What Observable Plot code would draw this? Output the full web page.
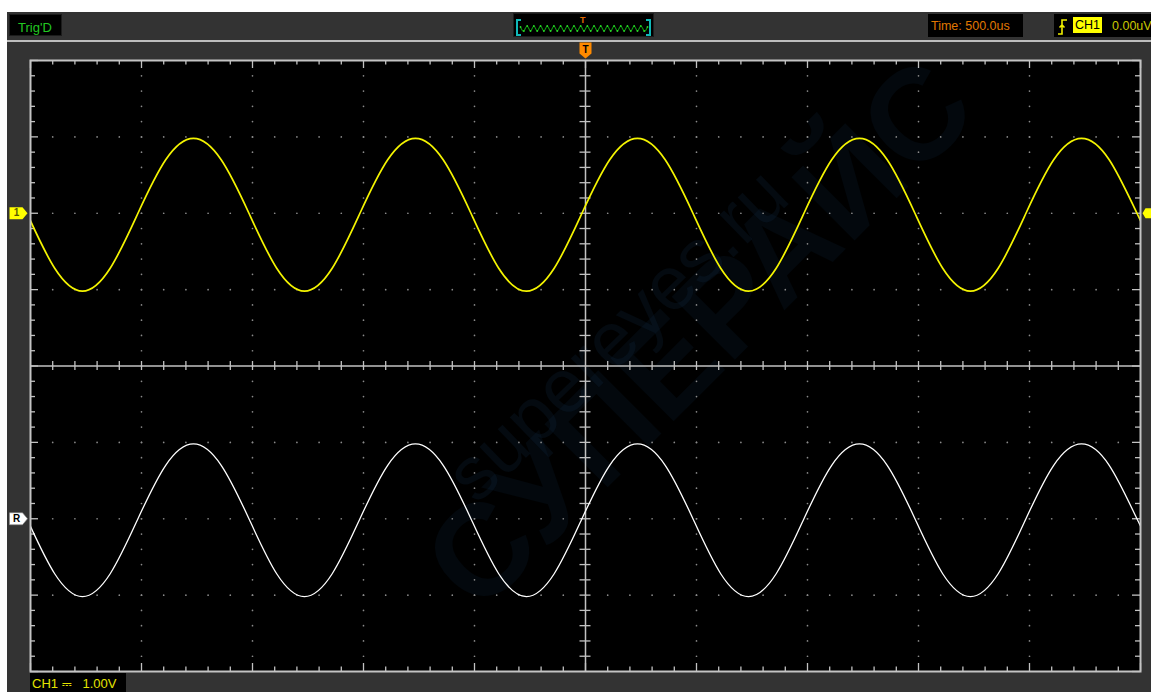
<!DOCTYPE html>
<html><head><meta charset="utf-8">
<script src="https://cdn.jsdelivr.net/npm/d3@7"></script>
<script src="https://cdn.jsdelivr.net/npm/@observablehq/plot@0.6"></script>
<style>
body{margin:0;background:#fff;width:1151px;height:692px;overflow:hidden;position:relative;font-family:"Liberation Sans",Arial,sans-serif;}
#panel{position:absolute;left:7px;top:12px;width:1144px;height:680px;background:#333;}
#sep{position:absolute;left:7px;top:40px;width:1144px;height:2px;background:#bdbdbd;}
.box{position:absolute;background:#000;box-sizing:border-box;line-height:1;white-space:nowrap;overflow:hidden;}
#main{position:absolute;left:0;top:0;}
</style></head>
<body>
<div id="panel"></div>
<div id="sep"></div>
<div class="box" id="trig" style="left:9px;top:14px;width:53px;height:22px;border:1px solid #1c1c1c;color:#22c822;font-size:13px;padding:6px 0 0 8px;">Trig'D</div>
<div class="box" id="mini" style="left:513px;top:13px;width:141px;height:24px;border:1px solid #1c1c1c;">
  <div style="position:absolute;left:2px;top:5px;width:3px;height:13px;border:2px solid #10b8b8;border-right:none;"></div>
  <div style="position:absolute;right:2px;top:5px;width:3px;height:13px;border:2px solid #10b8b8;border-left:none;"></div>
  <div style="position:absolute;left:66px;top:2px;color:#e06a00;font-size:9px;font-weight:bold;">T</div>
  <div id="miniplot" style="position:absolute;left:6px;top:10px;"></div>
</div>
<div class="box" id="time" style="left:928px;top:14px;width:95px;height:23px;color:#e07800;font-size:12.5px;padding:6px 0 0 3px;">Time: 500.0us</div>
<div class="box" id="trg" style="left:1054px;top:14px;width:97px;height:23px;">
  <svg style="position:absolute;left:3px;top:5px" width="12" height="16"><path d="M1,15 H5 V1 H10 M2.5,8.5 L5,6 L7.5,8.5" fill="none" stroke="#f0f000" stroke-width="1.6"/></svg>
  <div style="position:absolute;left:19px;top:3px;width:29px;height:16px;background:#ffff00;color:#000;font-size:12.5px;padding:2px 0 0 2px;box-sizing:border-box;">CH1</div>
  <div style="position:absolute;left:58px;top:6px;color:#c8c800;font-size:12.5px;">0.00uV</div>
</div>
<div class="box" id="chan" style="left:30px;top:673px;width:96px;height:19px;color:#e4e400;font-size:13px;padding:4px 0 0 2px;">CH1 <span style="font-family:'DejaVu Sans';font-size:12px;">⎓</span>&nbsp;&nbsp;&nbsp;1.00V</div>
<div id="main"></div>
<script>
// ---- data read from the screen ----
// sample times (µs), every 1/8 of the 1 ms period
const timeUs = [-2516,-2391,-2266,-2141,-2016,-1891,-1766,-1641,-1516,-1391,-1266,-1141,-1016,-891,-766,-641,-516,-391,-266,-141,-16,109,234,359,484,609,734,859,984,1109,1234,1359,1484,1609,1734,1859,1984,2109,2234,2359,2484,2609];
// CH1 (yellow) volts
const ch1Volts = [0,-0.72,-1.02,-0.72,0,0.7,0.98,0.7, 0,-0.72,-1.02,-0.72,0,0.7,0.98,0.7, 0,-0.72,-1.02,-0.72,0,0.7,0.98,0.7, 0,-0.72,-1.02,-0.72,0,0.7,0.98,0.7, 0,-0.72,-1.02,-0.72,0,0.7,0.98,0.7, 0,-0.72];
// Reference R (white) volts
const refVolts = [0,-0.72,-1.02,-0.72,0,0.7,0.98,0.7, 0,-0.72,-1.02,-0.72,0,0.7,0.98,0.7, 0,-0.72,-1.02,-0.72,0,0.7,0.98,0.7, 0,-0.72,-1.02,-0.72,0,0.7,0.98,0.7, 0,-0.72,-1.02,-0.72,0,0.7,0.98,0.7, 0,-0.72];
const voltsPerDiv = 1.0;
const ch1OffsetDiv = 2;
const refOffsetDiv = -2;
const triggerTime = 0;
const triggerLevel = 0;
// memory overview waveform (mini window)
const miniValues = [0.6,-1,1,-1,1,-1,1,-1,1,-1,1,-1,1,-1,1,-1,1,-1,1,-1,1,-1,1,-1,1,-1,1,-1,1,-1,1,-1,1,-1,1,-1,1,-1,0.6];

// ---- layout ----
const W = 1151, H = 692, mL = 30, mR = 11, mT = 60, mB = 21;
const PXX = 5000 / (W - mL - mR);   // µs per px
const PXY = 8 / (H - mT - mB);       // div per px
const r1 = v => Math.round(v * 10) / 10;
const xMajor = d3.range(-2500, 2501, 500);
const xMinor = d3.range(-2500, 2501, 100);
const yMajor = d3.range(-4, 4.001, 1).map(r1);
const yMinor = d3.range(-4, 4.001, 0.2).map(r1);
const isMajX = x => x % 500 === 0;
const isMajY = y => Math.abs(y - Math.round(y)) < 1e-6;

const dotsV = xMajor.filter(x => x !== 0 && Math.abs(x) !== 2500)
  .flatMap(x => yMinor.filter(y => Math.abs(y) < 4).map(y => ({x, y})));
const dotsH = yMajor.filter(y => y !== 0 && Math.abs(y) !== 4)
  .flatMap(y => xMinor.filter(x => Math.abs(x) < 2500).map(x => ({x, y})));

const idx = d3.range(timeUs.length);
const sym = pts => ({draw(ctx) { ctx.moveTo(pts[0][0], pts[0][1]); for (const p of pts.slice(1)) ctx.lineTo(p[0], p[1]); ctx.closePath(); }});
const ptrDown = sym([[-6,-8],[6,-8],[6,3],[0,8],[-6,3]]);
const ptrRight = sym([[-9,-6],[4,-6],[9,0],[4,6],[-9,6]]);
const ptrLeft = sym([[-7,0],[-4,-5],[8,-5],[8,5],[-4,5]]);
const FONT = "Liberation Sans, Arial, sans-serif";
const tickCol = "#c2c2c2";

const chart = Plot.plot({
  width: W, height: H,
  marginLeft: mL, marginRight: mR, marginTop: mT, marginBottom: mB,
  style: {background: "transparent", overflow: "visible"},
  x: {domain: [-2500, 2500], axis: null},
  y: {domain: [-4, 4], axis: null},
  marks: [
    Plot.frame({fill: "#000"}),
    // faint watermark
    Plot.text([{x: (700 - 585) * PXX, y: (365.5 - 335) * PXY}], {x: "x", y: "y", text: () => "СУПЕРАЙС", rotate: -45, fontSize: 130, fontWeight: "bold", fontFamily: FONT, fill: "#14324e", fillOpacity: 0.16, clip: true}),
    Plot.text([{x: (617 - 585) * PXX, y: (365.5 - 335) * PXY}], {x: "x", y: "y", text: () => "supereyes.ru", rotate: -44, fontSize: 76, fontFamily: FONT, fill: "#14324e", fillOpacity: 0.2, clip: true}),
    // dotted grid
    Plot.dot(dotsV, {x: "x", y: "y", r: 0.85, fill: "#8a8a8a", stroke: null}),
    Plot.dot(dotsH, {x: "x", y: "y", r: 0.85, fill: "#8a8a8a", stroke: null}),
    // center cross with ticks
    Plot.ruleX([0], {stroke: tickCol, strokeWidth: 1.5}),
    Plot.ruleY([0], {stroke: tickCol, strokeWidth: 1.5}),
    Plot.ruleX(xMinor.filter(x => Math.abs(x) < 2500 && x !== 0), {x: d => d, y1: -4.5 * PXY, y2: 4.5 * PXY, stroke: tickCol, strokeWidth: 1.3}),
    Plot.ruleY(yMinor.filter(y => Math.abs(y) < 4 && y !== 0), {y: d => d, x1: -5.5 * PXX, x2: 5.5 * PXX, stroke: tickCol, strokeWidth: 1.3}),
    // border ticks
    Plot.ruleX(xMinor, {x: d => d, y1: 4, y2: d => 4 - (isMajX(d) ? 8 : 4.5) * PXY, stroke: tickCol, strokeWidth: 1.3}),
    Plot.ruleX(xMinor, {x: d => d, y1: -4, y2: d => -4 + (isMajX(d) ? 8 : 4.5) * PXY, stroke: tickCol, strokeWidth: 1.3}),
    Plot.ruleY(yMinor, {y: d => d, x1: -2500, x2: d => -2500 + (isMajY(d) ? 8 : 5) * PXX, stroke: tickCol, strokeWidth: 1.3}),
    Plot.ruleY(yMinor, {y: d => d, x1: 2500, x2: d => 2500 - (isMajY(d) ? 8 : 5) * PXX, stroke: tickCol, strokeWidth: 1.3}),
    // traces
    Plot.line(idx, {x: i => timeUs[i], y: i => refVolts[i] / voltsPerDiv + refOffsetDiv, stroke: "#ffffff", strokeWidth: 1.3, curve: "natural", clip: true}),
    Plot.line(idx, {x: i => timeUs[i], y: i => ch1Volts[i] / voltsPerDiv + ch1OffsetDiv, stroke: "#f4f400", strokeWidth: 1.7, curve: "natural", clip: true}),
    Plot.frame({stroke: "#c4c4c4", strokeWidth: 2}),
    // markers
    Plot.dot([triggerTime], {x: d => d, y: 4 + 10 * PXY, symbol: ptrDown, r: 6, fill: "#ff8a00", stroke: null}),
    Plot.text([triggerTime], {x: d => d, y: 4 + 10 * PXY, text: () => "T", dy: -1, fill: "#000", fontSize: 10, fontWeight: "bold", fontFamily: FONT}),
    Plot.dot([ch1OffsetDiv], {x: -2500 - 12 * PXX, y: d => d, symbol: ptrRight, r: 6, fill: "#ffff00", stroke: null}),
    Plot.text([ch1OffsetDiv], {x: -2500 - 14 * PXX, y: d => d, text: () => "1", fill: "#5a5a00", fontSize: 10, fontWeight: "bold", fontFamily: FONT}),
    Plot.dot([refOffsetDiv], {x: -2500 - 12 * PXX, y: d => d, symbol: ptrRight, r: 6, fill: "#ffffff", stroke: "#888", strokeWidth: 0.6}),
    Plot.text([refOffsetDiv], {x: -2500 - 14 * PXX, y: d => d, text: () => "R", fill: "#000", fontSize: 10, fontWeight: "bold", fontFamily: FONT}),
    Plot.dot([triggerLevel / voltsPerDiv + ch1OffsetDiv], {x: 2500 + 9 * PXX, y: d => d, symbol: ptrLeft, r: 6, fill: "#ffff00", stroke: null})
  ]
});
document.getElementById("main").appendChild(chart);

const mini = Plot.plot({
  width: 127, height: 8, margin: 0,
  style: {background: "transparent", overflow: "visible"},
  x: {domain: [0, miniValues.length - 1], axis: null},
  y: {domain: [-1.6, 1.6], axis: null},
  marks: [
    Plot.line(miniValues, {x: (d, i) => i, y: d => d, stroke: "#0e9a0e", strokeWidth: 1.1, curve: "natural"}),
    Plot.dot(miniValues, {x: (d, i) => i, y: d => d, r: 0.9, fill: "#2ad82a", stroke: null})
  ]
});
document.getElementById("miniplot").appendChild(mini);
</script>
</body></html>
